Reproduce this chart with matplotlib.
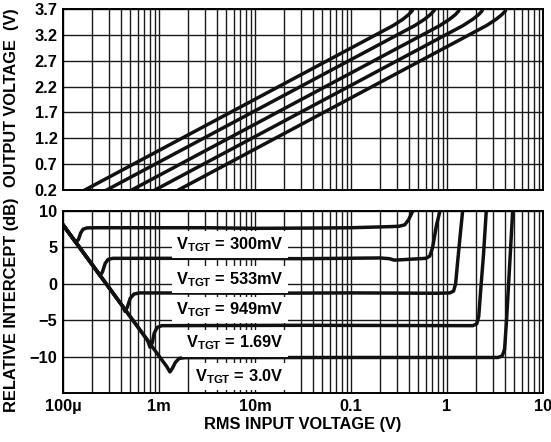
import matplotlib
matplotlib.use('Agg')
import matplotlib.pyplot as plt
from matplotlib.ticker import FixedLocator, LogLocator, NullFormatter

plt.rcParams['font.family'] = ['Liberation Sans', 'DejaVu Sans']
plt.rcParams['font.weight'] = 'bold'
plt.rcParams['mathtext.fontset'] = 'custom'
plt.rcParams['mathtext.rm'] = 'Liberation Sans:bold'
plt.rcParams['mathtext.bf'] = 'Liberation Sans:bold'

# target voltages, one curve per setting
targets = ['300mV', '533mV', '949mV', '1.69V', '3.0V']

# output voltage vs RMS input (upper panel)
vout_x = [
    [1.69e-4, 0.275, 0.346, 0.397, 0.432, 0.443],
    [2.85e-4, 0.462, 0.582, 0.668, 0.726, 0.767],
    [5.20e-4, 0.843, 1.06, 1.22, 1.32, 1.36],
    [9.08e-4, 1.47, 1.85, 2.13, 2.31, 2.37],
    [1.59e-3, 2.58, 3.24, 3.72, 4.05, 4.11],
]
vout_y = [0.2, 3.38, 3.50, 3.59, 3.66, 3.72]

# relative intercept vs RMS input (lower panel)
icpt_x = [
    [1.00e-4, 1.32e-4, 1.38e-4, 1.45e-4, 1.53e-4, 1.62e-4, 1.78e-4, 2.24e-4,
     3.16e-3, 0.01, 0.0316, 0.1, 0.251, 0.316, 0.363, 0.398, 0.422, 0.447],
    [1.00e-4, 2.29e-4, 2.43e-4, 2.57e-4, 2.75e-4, 2.95e-4, 3.31e-4, 3.16e-3,
     0.0316, 0.200, 0.251, 0.282, 0.331, 0.447, 0.603, 0.661, 0.708, 0.776, 0.851],
    [1.00e-4, 4.17e-4, 4.43e-4, 4.68e-4, 5.01e-4, 5.50e-4, 6.31e-4, 0.01,
     0.1, 0.794, 1.07, 1.17, 1.23, 1.29, 1.38, 1.46],
    [1.00e-4, 7.59e-4, 8.05e-4, 8.51e-4, 8.91e-4, 9.55e-4, 1.07e-3, 0.0316,
     1.86, 2.04, 2.14, 2.24, 2.40, 2.57],
    [1.00e-4, 1.20e-3, 1.30e-3, 1.38e-3, 1.48e-3, 1.62e-3, 1.86e-3, 0.1,
     3.39, 3.76, 3.98, 4.17, 4.47, 4.84],
]
icpt_y = [
    [8.1, 5.9, 5.75, 6.1, 7.0, 7.5, 7.68, 7.7, 7.7, 7.62, 7.65, 7.7, 7.85,
     7.9, 8.1, 8.8, 9.5, 10.2],
    [8.1, 1.62, 1.1, 1.6, 2.8, 3.35, 3.5, 3.5, 3.45, 3.55, 3.45, 3.25, 3.3,
     3.4, 3.5, 3.8, 5.0, 8.0, 10.2],
    [8.1, -3.06, -3.8, -3.2, -2.0, -1.4, -1.25, -1.3, -1.25, -1.3, -1.25,
     -1.0, 0.0, 3.0, 7.0, 10.2],
    [8.1, -7.74, -8.7, -8.1, -6.8, -6.0, -5.75, -5.7, -5.75, -5.5, -4.5,
     -1.0, 4.0, 10.2],
    [8.1, -11.34, -12.1, -11.6, -10.8, -10.25, -10.15, -10.12, -10.12, -9.9,
     -9.0, -5.0, 2.0, 10.2],
]
label_x = 0.0200
label_y = [5.35, 0.55, -3.6, -8.15, -12.75]

vout_ticks = [0.2, 0.7, 1.2, 1.7, 2.2, 2.7, 3.2, 3.7]
icpt_ticks = [10, 5, 0, -5, -10]
icpt_ticklabels = ['10', '5', '0', '\u22125', '\u221210']
x_ticks = [1e-4, 1e-3, 1e-2, 1e-1, 1, 10]
x_ticklabels = ['100\u00b5', '1m', '10m', '0.1', '1', '10']

FS = 11.8
W, H = 551, 442
fig = plt.figure(figsize=(W / 100, H / 100), dpi=100)
ax1 = fig.add_axes([63 / W, 1 - 190 / H, 480 / W, 181 / H])
ax2 = fig.add_axes([63 / W, 1 - 393 / H, 480 / W, 182 / H])

grid_kw = dict(color='#1a1a1a', lw=1.0)
for ax in (ax1, ax2):
    ax.set_xscale('log')
    ax.set_xlim(1e-4, 10)
    ax.xaxis.set_major_locator(FixedLocator(x_ticks))
    ax.xaxis.set_minor_locator(LogLocator(base=10, subs=range(2, 10), numticks=20))
    ax.xaxis.set_minor_formatter(NullFormatter())
    ax.grid(True, which='both', axis='x', **grid_kw)
    ax.grid(True, which='major', axis='y', **grid_kw)
    ax.tick_params(which='both', length=0, labelsize=FS, pad=4)
    for s in ax.spines.values():
        s.set_linewidth(1.4)
        s.set_color('black')
    ax.set_axisbelow(True)

ax1.set_ylim(0.2, 3.7)
ax1.set_yticks(vout_ticks)
ax1.set_yticklabels([f'{v:.1f}' for v in vout_ticks])
ax1.set_xticklabels([])
for xs in vout_x:
    ax1.plot(xs, vout_y, color='#111111', lw=2.5, solid_joinstyle='round')

ax2.set_ylim(-15, 10)
ax2.set_yticks(icpt_ticks)
ax2.set_yticklabels(icpt_ticklabels)
ax2.set_xticklabels(x_ticklabels)
for xs, ys in zip(icpt_x, icpt_y):
    ax2.plot(xs, ys, color='#111111', lw=2.5, solid_joinstyle='round')

for name, y in zip(targets, label_y):
    ax2.text(label_x, y, r'$\mathbf{V_{TGT}}$ = ' + name, ha='right', va='center',
             fontsize=FS, fontweight='bold',
             bbox=dict(boxstyle='square,pad=0.25', fc='white', ec='none'))

fig.text(12 / W, 1 - 98 / H, 'OUTPUT VOLTAGE  (V)', rotation=90,
         ha='center', va='center', fontsize=FS, fontweight='bold')
fig.text(12 / W, 1 - 305 / H, 'RELATIVE INTERCEPT (dB)', rotation=90,
         ha='center', va='center', fontsize=FS, fontweight='bold')
fig.text(303 / W, 1 - 425 / H, 'RMS INPUT VOLTAGE (V)',
         ha='center', va='center', fontsize=FS, fontweight='bold')

fig.savefig('out.png', dpi=100)
